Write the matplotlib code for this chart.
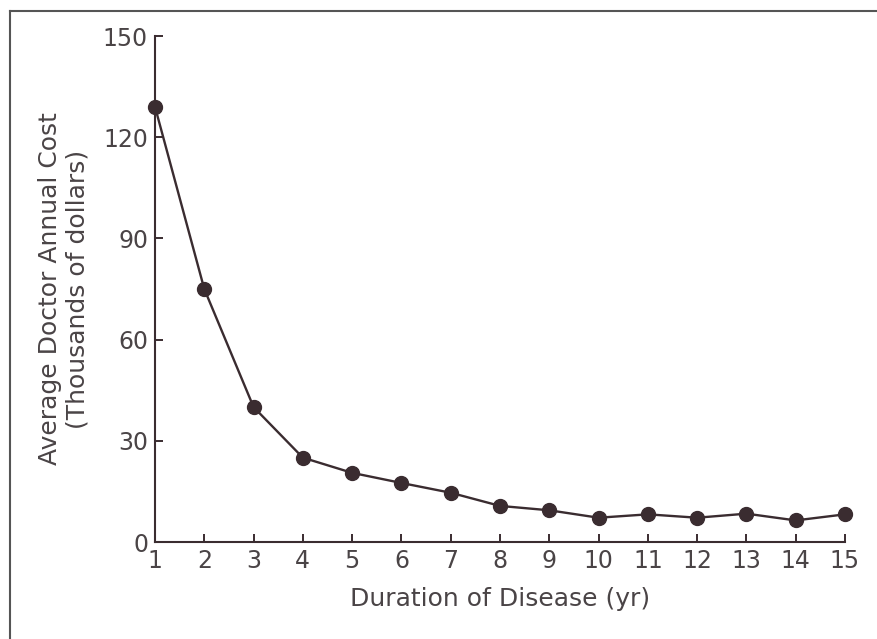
import matplotlib.pyplot as plt
from matplotlib.lines import Line2D

years = [1, 2, 3, 4, 5, 6, 7, 8, 9, 10, 11, 12, 13, 14, 15]
cost = [129, 75, 40, 25, 20.5, 17.5, 14.6, 10.7, 9.4, 7.2, 8.2, 7.2, 8.4, 6.4, 8.2]
yticks = [0, 30, 60, 90, 120, 150]

plt.rcParams['font.family'] = ['DejaVu Sans']
ink = '#3a2c30'
txt = '#4a4446'

fig = plt.figure(figsize=(8.77, 6.39), dpi=100)
ax = fig.add_axes([155 / 877, 1 - 542 / 639, 690 / 877, 506 / 639])

ax.plot(years, cost, color=ink, lw=1.7, marker='o', ms=10, clip_on=False, zorder=3)

ax.set_xlim(1, 15)
ax.set_ylim(0, 150)
ax.set_xticks(years)
ax.set_yticks(yticks)
for s in ['top', 'right']:
    ax.spines[s].set_visible(False)
for s in ['left', 'bottom']:
    ax.spines[s].set_color(ink)
    ax.spines[s].set_linewidth(1.5)
ax.tick_params(direction='in', length=6, width=1.4, color=ink, labelcolor=txt, labelsize=17)
ax.tick_params(axis='x', pad=5)
ax.tick_params(axis='y', pad=5)

ax.set_xlabel('Duration of Disease (yr)', fontsize=18, color=txt, labelpad=10)
ax.set_ylabel('Average Doctor Annual Cost\n(Thousands of dollars)', fontsize=18, color=txt,
              labelpad=10, linespacing=1.15)

# partial frame from the scan
fig.add_artist(Line2D([10 / 877, 10 / 877], [0, 1 - 11 / 639], transform=fig.transFigure,
                      color='#555555', lw=1.5))
fig.add_artist(Line2D([10 / 877, 1], [1 - 11 / 639, 1 - 11 / 639], transform=fig.transFigure,
                      color='#555555', lw=1.5))

fig.savefig('out.png', dpi=100)
